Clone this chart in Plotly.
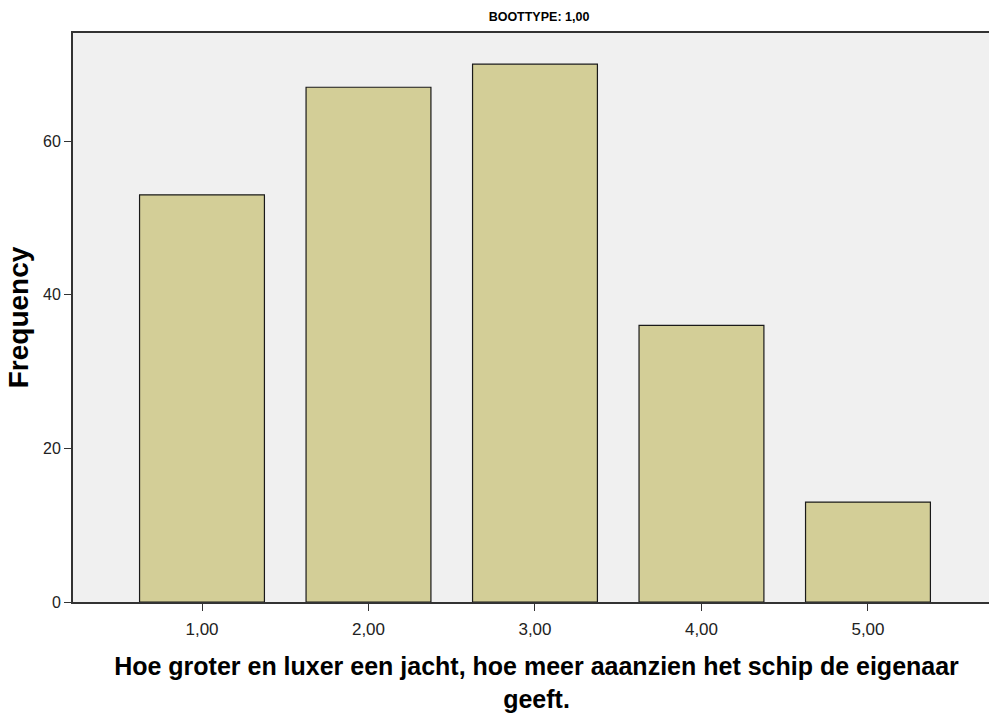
import plotly.graph_objects as go

# waarden
categories = [1, 2, 3, 4, 5]
category_labels = ["1,00", "2,00", "3,00", "4,00", "5,00"]
frequencies = [53, 67, 70, 36, 13]
y_ticks = [0, 20, 40, 60]

title = "BOOTTYPE: 1,00"
x_title = "Hoe groter en luxer een jacht, hoe meer aaanzien het schip de eigenaar<br>geeft."
y_title = "Frequency"

font = "Liberation Sans, Arial"

fig = go.Figure(go.Bar(
    x=categories, y=frequencies, width=0.75,
    marker=dict(color="#D3CE97", line=dict(color="#1a1a1a", width=1.2)),
))

# plotgebied loopt net buiten het venster door, zoals in het origineel
fig.update_layout(
    width=1000, height=713,
    margin=dict(l=73, r=0, t=33, b=111),
    paper_bgcolor="white", plot_bgcolor="#F0F0F0",
    showlegend=False,
    title=dict(text="<b>" + title + "</b>", x=539 / 1000, xanchor="center", y=0.976,
               yanchor="middle", font=dict(family=font, size=12.5, color="black")),
)
fig.update_xaxes(
    range=[0.2252, 5.793], tickvals=categories, ticktext=category_labels,
    ticks="outside", ticklen=7, tickcolor="#333", tickwidth=1,
    showline=True, linecolor="#333", linewidth=2, mirror=True,
    showgrid=False, zeroline=False, ticklabelstandoff=4,
    tickfont=dict(family=font, size=17, color="#222"),
    title=dict(text="<b>" + x_title + "</b>", standoff=22,
               font=dict(family=font, size=25, color="black")),
)
fig.update_yaxes(
    range=[0, 74.06], tickvals=y_ticks,
    ticks="outside", ticklen=7, tickcolor="#333", tickwidth=1,
    showline=True, linecolor="#333", linewidth=2,
    showgrid=False, zeroline=False,
    tickfont=dict(family=font, size=16, color="#222"),
    title=dict(text="<b>" + y_title + "</b>", standoff=6,
               font=dict(family=font, size=28, color="black")),
)

fig.write_html("out.html", config={"displayModeBar": False},
               post_script="document.body.style.margin='0';document.body.style.overflow='hidden';")
